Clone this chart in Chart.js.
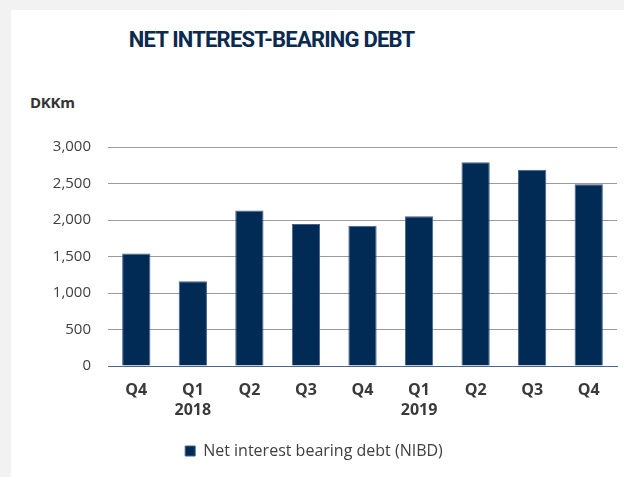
<!DOCTYPE html>
<html>
<head>
<meta charset="utf-8">
<script src="https://cdn.jsdelivr.net/npm/chart.js@4/dist/chart.umd.min.js"></script>
<style>
  body { margin: 0; width: 624px; height: 477px; background: #f2f2f2; overflow: hidden; font-family: Roboto, sans-serif; }
  #card { position: absolute; left: 11px; top: 10px; width: 613px; height: 467px; background: #fff; }
  #title { position: absolute; left: 0; top: 17px; width: 521px; text-align: center; font-weight: bold; font-size: 22px; color: #0b2a50; letter-spacing: -0.8px; }
  #unit { position: absolute; left: 19px; top: 82px; font-family: 'Open Sans', sans-serif; font-weight: bold; font-size: 15px; color: #333; letter-spacing: -0.3px; }
  canvas { position: absolute; left: 0; top: 0; }
</style>
</head>
<body>
<div id="card">
  <div id="title">NET INTEREST-BEARING DEBT</div>
  <div id="unit">DKKm</div>
  <canvas id="nibdChart" width="613" height="467"></canvas>
</div>
<script>
// Quarterly net interest-bearing debt, DKKm
const quarters = ['Q4', ['Q1', '2018'], 'Q2', 'Q3', 'Q4', ['Q1', '2019'], 'Q2', 'Q3', 'Q4'];
const nibd = [1540, 1160, 2130, 1945, 1920, 2050, 2790, 2690, 2490];
const seriesName = 'Net interest bearing debt (NIBD)';
const yTicks = [0, 500, 1000, 1500, 2000, 2500, 3000];

const navy = '#012a54';
const labelGrey = '#404040';
const bodyFont = 'Open Sans';

new Chart(document.getElementById('nibdChart'), {
    type: 'bar',
    data: {
        labels: quarters,
        datasets: [{
            label: seriesName,
            data: nibd,
            backgroundColor: navy,
            borderColor: '#45648a',
            borderWidth: 1,
            categoryPercentage: 1,
            barPercentage: 0.5
        }]
    },
    options: {
        responsive: false,
        animation: false,
        devicePixelRatio: 1,
        layout: { padding: { top: 137, right: 7, left: 0, bottom: 8 } },
        plugins: {
            tooltip: { enabled: false },
            legend: {
                position: 'bottom',
                labels: {
                    boxWidth: 10,
                    boxHeight: 10,
                    color: labelGrey,
                    padding: 10,
                    font: { family: bodyFont, size: 16 }
                }
            }
        },
        scales: {
            x: {
                grid: { display: false },
                border: { color: '#4a6890', width: 1 },
                ticks: {
                    color: '#3a3a3a',
                    padding: 7,
                    maxRotation: 0,
                    font: { family: bodyFont, size: 16, weight: 'bold', lineHeight: 1.22 }
                },
                afterFit: scale => { scale.height = 67; }
            },
            y: {
                min: 0,
                max: 3000,
                afterBuildTicks: scale => { scale.ticks = yTicks.map(v => ({ value: v })); },
                grid: { color: '#9a9a9a', drawTicks: false },
                border: { display: false },
                ticks: {
                    color: labelGrey,
                    padding: 17,
                    font: { family: bodyFont, size: 15 },
                    callback: v => v.toLocaleString('en-US')
                },
                afterFit: scale => { scale.width = 97; }
            }
        }
    }
});
</script>
</body>
</html>
